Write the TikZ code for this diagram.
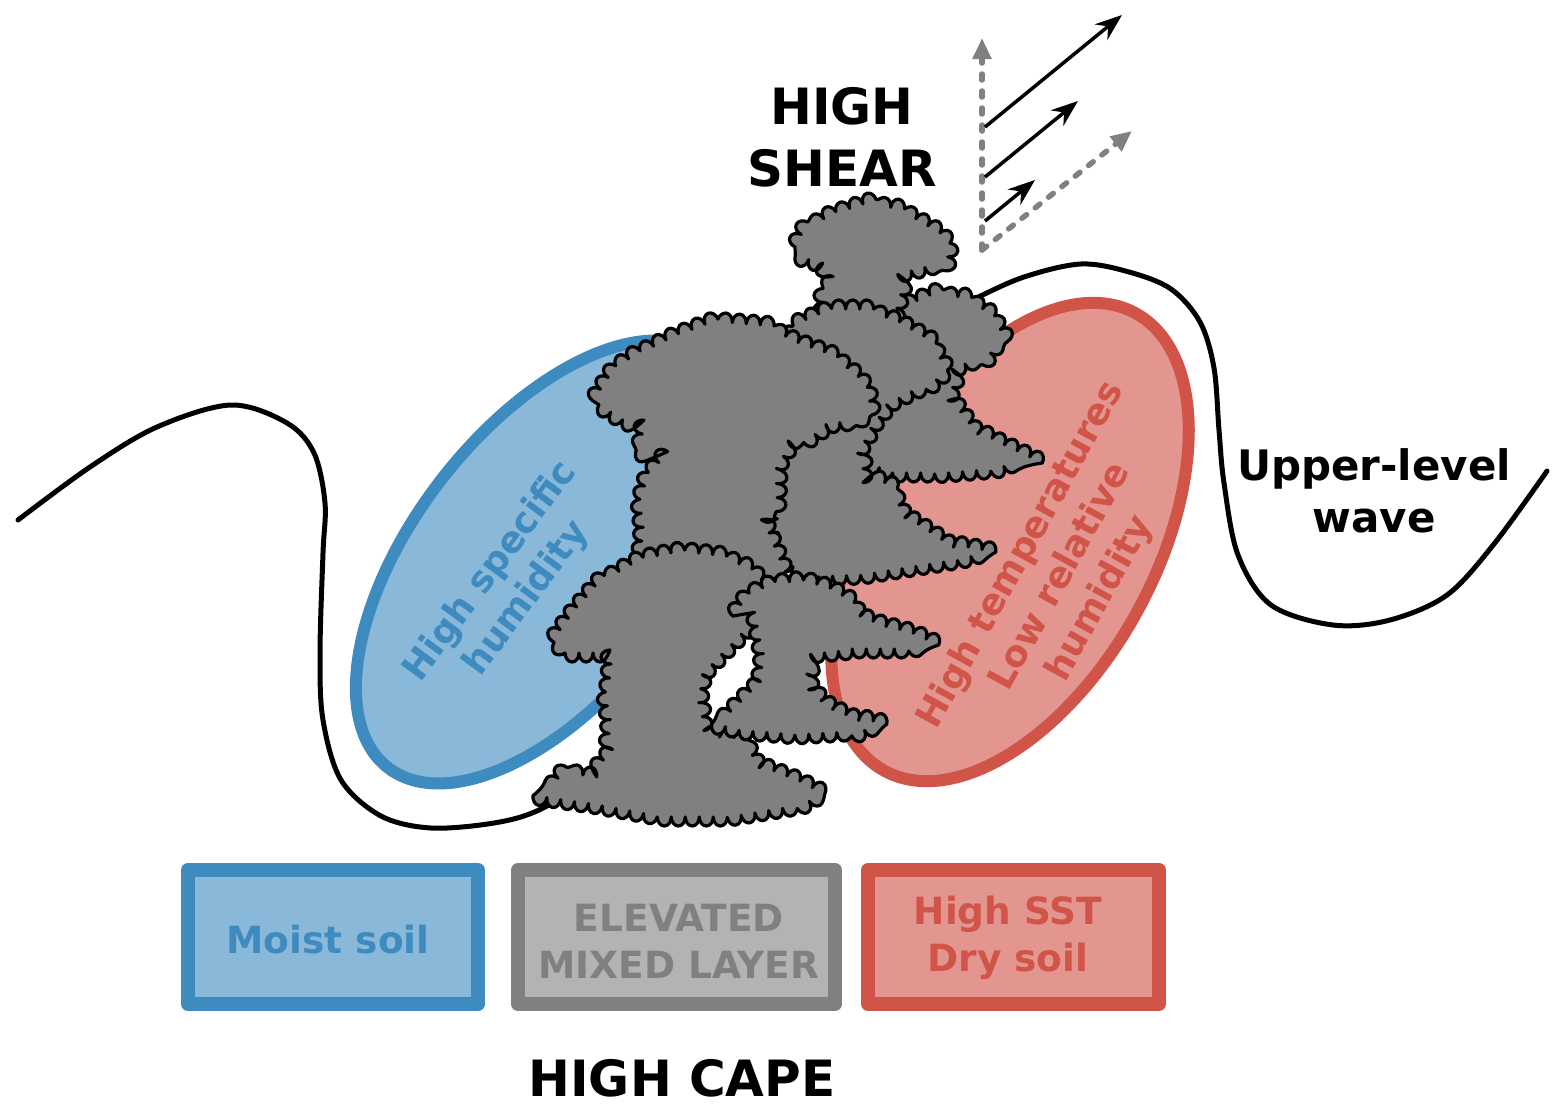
\documentclass[tikz,border=0pt]{standalone}
\usepackage{fontspec}
\setmainfont{DejaVu Sans}
\usetikzlibrary{arrows.meta,decorations.pathmorphing}
\definecolor{bstroke}{RGB}{62,139,192}
\definecolor{bfill}{RGB}{138,184,216}
\definecolor{rstroke}{RGB}{208,85,72}
\definecolor{rfill}{RGB}{227,149,143}
\definecolor{gstroke}{RGB}{128,128,128}
\definecolor{gfill}{RGB}{179,179,179}
\tikzset{
  cloudst/.style={fill=gstroke, draw=black, line width=3.2pt, line join=round,
    decorate, decoration={bumps, segment length=28pt, amplitude=9pt}},
  boxst/.style={line width=14pt, line join=round, inner sep=0pt},
  boxtext/.style={font=\bfseries\fontsize{37.5}{47}\selectfont, align=center, inner sep=0pt},
  ellst/.style={line width=12pt},
  elltext/.style={font=\bfseries\fontsize{36.5}{45}\selectfont, align=center, inner sep=0pt},
  bigtext/.style={font=\bfseries\fontsize{50}{62}\selectfont, align=center, inner sep=0pt},
  blackarrow/.style={line width=3.5pt, -{Stealth[length=27pt,width=20pt,inset=9pt]}},
  grayarrow/.style={gstroke, line width=5.5pt, dash pattern=on 6pt off 11pt, line cap=round, -{Triangle[length=21pt,width=18pt]}}
}
\begin{document}
\begin{tikzpicture}[x=1pt,y=-1pt]
\useasboundingbox (0,0) rectangle (1561,1111);

% upper-level wave
\draw[line width=5pt, line cap=round] plot[smooth, tension=0.55] coordinates {
 (18,520) (90,467) (157,427) (231,405) (287,423) (314,453) (325,503) (323,553)
 (320,653) (323,720) (341,780) (381,816) (431,828) (494,823) (539,810) (590,778)
 (640,730) (675,660) (715,570) (770,480) (840,390) (910,330) (972,300) (1024,277)
 (1081,264) (1129,272)
 (1171,289) (1200,322) (1214,368) (1219,430) (1224,483) (1238,555) (1271,605)
 (1333,625) (1390,620) (1447,595) (1494,544) (1547,471)};

% ellipses
\draw[ellst, draw=bstroke, fill=bfill] (547,562) ellipse [x radius=260pt, y radius=134pt, rotate=52.3];
\draw[ellst, draw=rstroke, fill=rfill] (1010,542) ellipse [x radius=261pt, y radius=145pt, rotate=61.2];

\node[elltext, text=bstroke, rotate=53.5] (bluetext) at (509,585) {High specific\\humidity};
\node[elltext, text=rstroke, rotate=61.2] (redtext) at (1061,577) {High temperatures\\Low relative\\humidity};

% clouds
\filldraw[cloudst] (880,320) -- (897,309) -- (930,295) -- (963,297) -- (990,313) -- (1003,334) -- (990,354) -- (960,366)
 -- (950,395) -- (960,411) -- (973,428) -- (1003,444) -- (1030,457) -- (997,469) -- (947,473) -- (897,473)
 -- (870,465) -- (860,400) -- cycle;
\filldraw[cloudst] (795,247) -- (803,231) -- (830,215) -- (863,204) -- (897,208) -- (930,227) -- (950,243) -- (947,262)
 -- (907,272) -- (900,297) -- (895,318) -- (860,322) -- (823,318) -- (823,301) -- (830,284) -- (823,264) -- (797,256) -- cycle;
\filldraw[cloudst] (793,325) -- (830,309) -- (863,309) -- (897,321) -- (927,338) -- (940,358) -- (947,370) -- (933,383)
 -- (913,391) -- (890,403) -- (877,420) -- (863,444) -- (863,473) -- (890,485) -- (903,514) -- (947,543)
 -- (990,551) -- (963,559) -- (913,567) -- (863,575) -- (813,577) -- (780,560) -- (770,400) -- cycle;
\filldraw[cloudst] (593,401) -- (613,370) -- (630,358) -- (670,338) -- (713,321) -- (763,325) -- (797,342) -- (830,354)
 -- (850,370) -- (867,387) -- (870,403) -- (860,420) -- (830,424) -- (813,436) -- (793,440) -- (783,457)
 -- (778,477) -- (777,502) -- (763,518) -- (773,543) -- (783,567) -- (760,590) -- (660,590) -- (640,559)
 -- (643,530) -- (640,502) -- (647,477) -- (660,461) -- (640,452) -- (643,428) -- (623,420) -- cycle;
\filldraw[cloudst] (552,641) -- (573,612) -- (597,584) -- (640,559) -- (680,551) -- (717,555) -- (747,567)
 -- (770,588) -- (765,615) -- (743,633) -- (723,653) -- (703,674) -- (700,694) -- (703,723) -- (717,735)
 -- (743,739) -- (757,764) -- (797,780) -- (823,793) -- (803,805) -- (730,817) -- (663,817)
 -- (597,805) -- (543,797) -- (563,772) -- (590,776) -- (607,756) -- (610,723) -- (607,703)
 -- (610,674) -- (610,653) -- (570,653) -- cycle;
\filldraw[cloudst] (733,616) -- (747,596) -- (770,584) -- (803,580) -- (830,588) -- (850,600) -- (860,616) -- (880,624)
 -- (913,633) -- (930,641) -- (913,649) -- (863,649) -- (823,653) -- (813,666) -- (810,682) -- (817,694)
 -- (830,707) -- (847,715) -- (882,723) -- (863,731) -- (797,735) -- (747,731) -- (717,725)
 -- (760,682) -- (763,657) -- (757,625) -- cycle;

% shear arrows
\coordinate (base) at (982,250);
\coordinate (vtip) at (982,38);
\coordinate (dtip) at (1132,131);
\coordinate (a1s) at (985,127); \coordinate (a1e) at (1122,15);
\coordinate (a2s) at (985,177); \coordinate (a2e) at (1078,101);
\coordinate (a3s) at (985,221); \coordinate (a3e) at (1035,180);
\draw[grayarrow] (base) -- (vtip);
\draw[grayarrow] (base) -- (dtip);
\draw[blackarrow] (a1s) -- (a1e);
\draw[blackarrow] (a2s) -- (a2e);
\draw[blackarrow] (a3s) -- (a3e);

% labels
\node[bigtext] (shear) at (842,137) {HIGH\\SHEAR};
\node[bigtext] (cape) at (682,1078) {HIGH CAPE};
\node[font=\bfseries\fontsize{42}{52}\selectfont, align=center, inner sep=0pt] (wave) at (1374,491) {Upper-level\\wave};

% boxes
\node[boxst, draw=bstroke, fill=bfill, minimum width=290pt, minimum height=134pt] (moist) at (333,937) {};
\node[boxst, draw=gstroke, fill=gfill, minimum width=317pt, minimum height=134pt] (eml) at (676.5,937) {};
\node[boxst, draw=rstroke, fill=rfill, minimum width=291pt, minimum height=134pt] (sst) at (1013.5,937) {};
\node[boxtext, text=bstroke] (moisttext) at (328,940) {Moist soil};
\node[boxtext, text=gstroke] (emltext) at (679,941) {ELEVATED\\MIXED LAYER};
\node[boxtext, text=rstroke] (ssttext) at (1008,938) {High SST\\Dry soil};
\end{tikzpicture}
\end{document}
